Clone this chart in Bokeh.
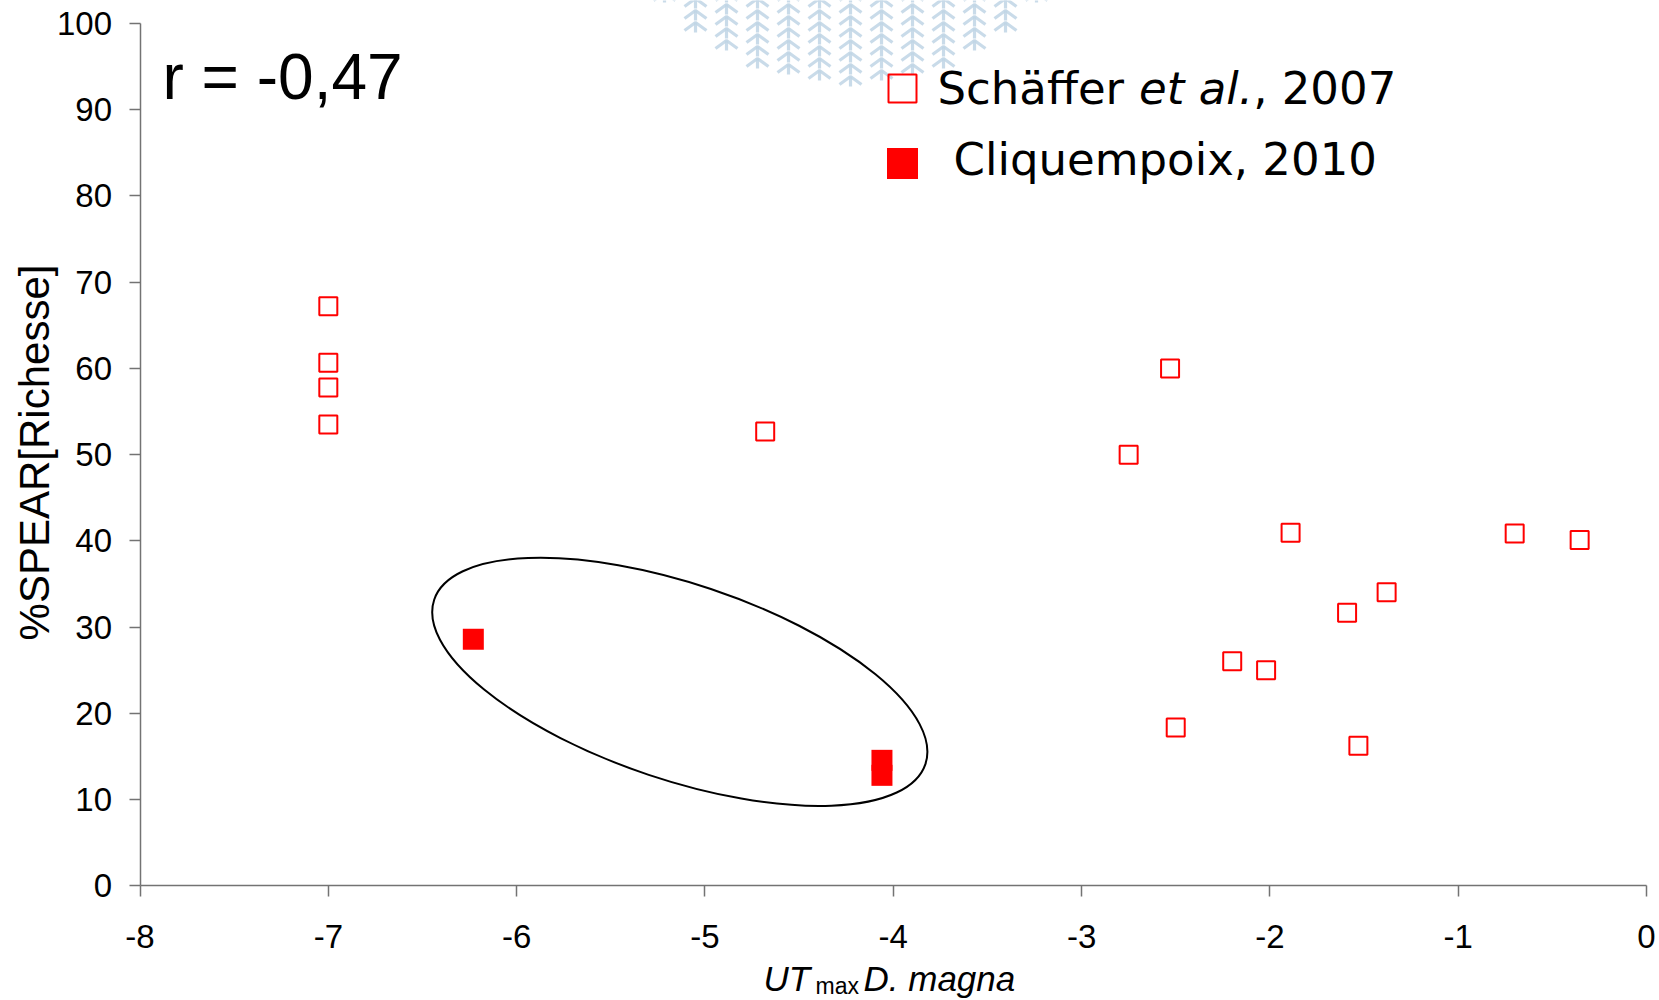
import numpy as np
from bokeh.plotting import figure
from bokeh.models import Range1d, FixedTicker, Label, CustomJSTickFormatter
from bokeh.embed import file_html
from bokeh.resources import INLINE

# ---------------- data ----------------
schaffer_x = [-7.0, -7.0, -7.0, -7.0, -4.68, -2.75, -2.53, -1.89, -0.70, -0.355,
              -1.38, -1.59, -2.20, -2.02, -2.50, -1.53]
schaffer_y = [67.2, 60.65, 57.8, 53.5, 52.7, 50.0, 60.0, 40.95, 40.87, 40.1,
              34.05, 31.67, 26.04, 25.0, 18.36, 16.24]
cliq_x = [-6.23, -4.06, -4.06]
cliq_y = [28.6, 14.56, 12.82]

x_ticks = [-8, -7, -6, -5, -4, -3, -2, -1, 0]
y_ticks = [0, 10, 20, 30, 40, 50, 60, 70, 80, 90, 100]

legend_labels = ["Schäffer ", "et al.", ", 2007", "Cliquempoix, 2010"]
r_text = "r = -0,47"
y_title = "%SPEAR[Richesse]"
x_title = ["UT", "max", "D. magna"]

# ---------------- layout helpers (page px -> data) ----------------
W, H = 1659, 1000
PX_XM8, PX_X0 = 139.5, 1646.0     # page x of x=-8 and x=0
PX_Y0, PX_Y100 = 885.4, 23.0      # page y of y=0 and y=100


def dx(px):
    return -8 + (px - PX_XM8) * 8.0 / (PX_X0 - PX_XM8)


def dy(py):
    return (PX_Y0 - py) * 100.0 / (PX_Y0 - PX_Y100)


BL = 0.36  # label anchor sits this many em above the drawn baseline


def base(py, fs):
    return dy(py - BL * fs)


p = figure(width=W, height=H, output_backend="svg", toolbar_location=None,
           x_range=Range1d(dx(0), dx(W)), y_range=Range1d(dy(H), dy(0)),
           min_border=0, min_border_left=0, min_border_right=0,
           min_border_top=0, min_border_bottom=0)
p.outline_line_color = None
p.background_fill_color = "white"
p.border_fill_color = "white"
p.xgrid.visible = False
p.ygrid.visible = False

# ---------------- watermark (decorative chevrons at top) ----------------
wm_cx, wm_cy, wm_r = 852, -168, 250
xs, ys = [], []
col = 0
for cx in np.arange(664, 1045, 31):
    off = 6 if col % 2 else 0
    for cy in np.arange(-8 + off, 92, 12):
        if (cx - wm_cx) ** 2 + (cy - wm_cy) ** 2 <= wm_r ** 2:
            xs.append([dx(cx - 11), dx(cx), dx(cx + 11)])
            ys.append([dy(cy + 8), dy(cy), dy(cy + 8)])
            xs.append([dx(cx), dx(cx)])
            ys.append([dy(cy), dy(cy + 10)])
    col += 1
p.multi_line(xs, ys, line_color="#bfd5e5", line_width=3.2, line_alpha=0.85)

# ---------------- axes (fixed inside the full-canvas frame) ----------------
for ax in (p.xaxis[0], p.yaxis[0]):
    ax.axis_line_color = "#737373"
    ax.axis_line_width = 1.5
    ax.major_tick_line_color = "#737373"
    ax.major_tick_line_width = 1.5
    ax.major_tick_out = 11
    ax.major_tick_in = 0
    ax.minor_tick_line_color = None
    ax.major_label_text_font = "Liberation Sans"
    ax.major_label_text_font_size = "33px"
    ax.major_label_text_color = "black"
    ax.formatter = CustomJSTickFormatter(code="return tick.toFixed(0)")

p.xaxis.ticker = FixedTicker(ticks=x_ticks)
p.yaxis.ticker = FixedTicker(ticks=y_ticks)
p.xaxis.bounds = (-8, 0)
p.yaxis.bounds = (0, 100)
p.xaxis.fixed_location = 0
p.yaxis.fixed_location = -8
p.xaxis.major_label_standoff = 28
p.yaxis.major_label_standoff = 17

# ---------------- ellipse annotation ----------------
p.ellipse(x=[dx(679.3)], y=[dy(681.4)], width=[518], height=[196],
          width_units="screen", height_units="screen", angle=-18.5,
          angle_units="deg", fill_color=None, line_color="black", line_width=2)

# ---------------- data ----------------
p.scatter(schaffer_x, schaffer_y, marker="square", size=18, fill_color=None,
          line_color="#ff0000", line_width=2)
p.scatter(cliq_x, cliq_y, marker="square", size=21, fill_color="#ff0000",
          line_color=None)

# ---------------- legend (custom) ----------------
p.scatter([dx(902)], [dy(88)], marker="square", size=28, fill_color=None,
          line_color="#ff0000", line_width=2)
p.scatter([dx(902)], [dy(163)], marker="square", size=31, fill_color="#ff0000",
          line_color=None)

LEG_FONT = "DejaVu Sans"
LEG_FS = 45
LEG_SIZE = "%dpx" % LEG_FS
x1 = 937
w_schaffer = 4.48 * LEG_FS
w_etal = 2.534 * LEG_FS
p.add_layout(Label(x=dx(x1), y=base(104, LEG_FS), text=legend_labels[0],
                   text_font=LEG_FONT, text_font_size=LEG_SIZE,
                   text_color="black", text_baseline="alphabetic"))
p.add_layout(Label(x=dx(x1 + w_schaffer), y=base(104, LEG_FS), text=legend_labels[1],
                   text_font=LEG_FONT, text_font_size=LEG_SIZE,
                   text_font_style="italic", text_color="black",
                   text_baseline="alphabetic"))
p.add_layout(Label(x=dx(x1 + w_schaffer + w_etal), y=base(104, LEG_FS),
                   text=legend_labels[2], text_font=LEG_FONT,
                   text_font_size=LEG_SIZE, text_color="black",
                   text_baseline="alphabetic"))
p.add_layout(Label(x=dx(953), y=base(175, LEG_FS), text=legend_labels[3],
                   text_font=LEG_FONT, text_font_size=LEG_SIZE,
                   text_color="black", text_baseline="alphabetic"))

# ---------------- r value ----------------
p.add_layout(Label(x=dx(162), y=base(100, 64), text=r_text, text_font="Liberation Sans",
                   text_font_size="64px", text_color="black",
                   text_baseline="alphabetic"))

# ---------------- axis titles ----------------
p.add_layout(Label(x=dx(34), y=dy(452), text=y_title, text_font="Liberation Sans",
                   text_font_size="42px", angle=90, angle_units="deg",
                   text_color="black", text_align="center", text_baseline="middle"))
p.add_layout(Label(x=dx(763), y=base(991, 35), text=x_title[0],
                   text_font="Liberation Sans", text_font_size="35px",
                   text_font_style="italic", text_color="black",
                   text_baseline="alphabetic"))
p.add_layout(Label(x=dx(815), y=base(994, 23), text=x_title[1],
                   text_font="Liberation Sans", text_font_size="23px",
                   text_color="black", text_baseline="alphabetic"))
p.add_layout(Label(x=dx(863), y=base(991, 35), text=x_title[2],
                   text_font="Liberation Sans", text_font_size="35px",
                   text_font_style="italic", text_color="black",
                   text_baseline="alphabetic"))

open("out.html", "w").write(file_html(p, INLINE))
